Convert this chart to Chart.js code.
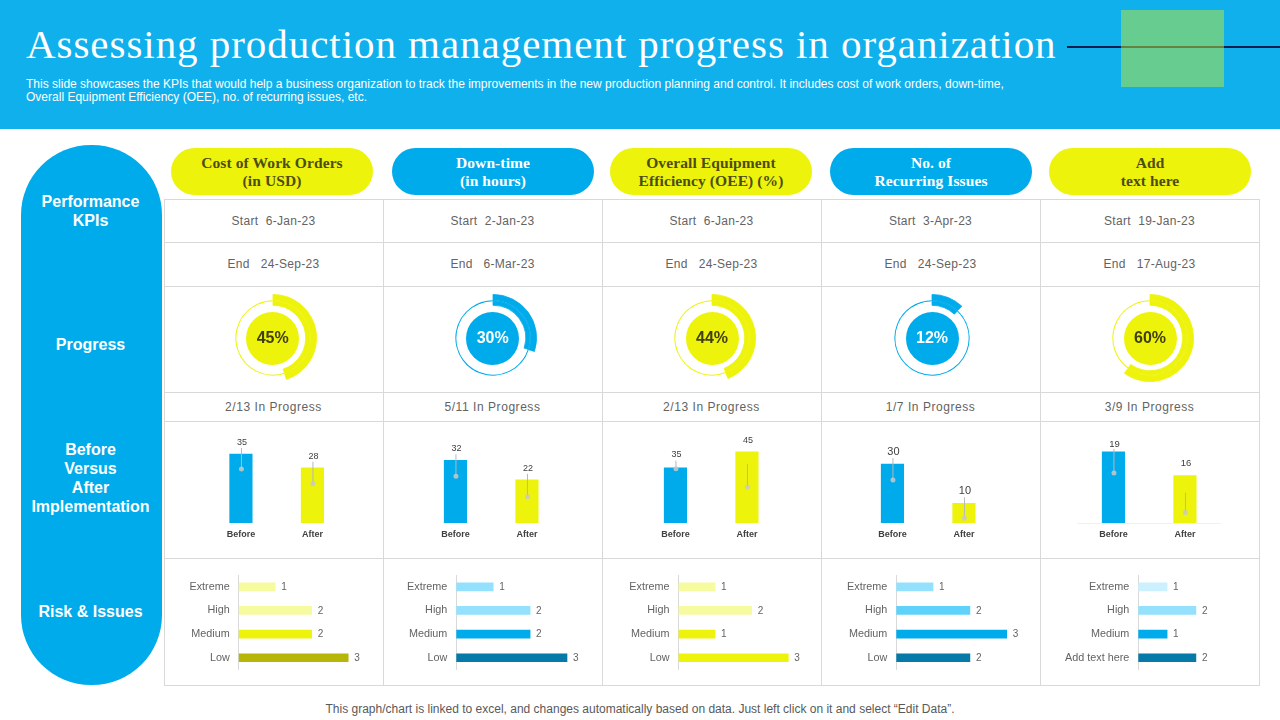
<!DOCTYPE html>
<html>
<head>
<meta charset="utf-8">
<title>Assessing production management progress in organization</title>
<script src="https://cdn.jsdelivr.net/npm/chart.js@4"></script>
<style>
html, body { margin: 0; padding: 0; background: #fff; }
body { width: 1280px; height: 720px; overflow: hidden; position: relative; font-family: "Liberation Sans", Arial, sans-serif; color: #595959; }
.abs { position: absolute; }
#header { left: 0; top: 0; width: 1280px; height: 129px; background: #0fb0ec; }
#title { left: 26px; top: 20px; font: 41px "Liberation Serif", serif; letter-spacing: 0.95px; color: #fff; white-space: nowrap; }
#subtitle { left: 26px; top: 78px; font-size: 12.03px; line-height: 13px; color: #fff; white-space: nowrap; }
#rule { left: 1067px; top: 46px; width: 213px; height: 2px; background: #0a1f50; }
#square { left: 1121px; top: 10px; width: 103px; height: 77px; background: rgba(189, 232, 52, 0.5); }
#sidebar { left: 21px; top: 145px; width: 141px; height: 540px; background: #00abeb; border-radius: 70px; }
.side { left: 20px; width: 141px; text-align: center; color: #fff; font-weight: bold; font-size: 16px; line-height: 19px; }
.pill { top: 148px; width: 202px; height: 47px; border-radius: 23.5px; display: flex; align-items: center; justify-content: center; text-align: center; font: bold 15.5px/18px "Liberation Serif", serif; letter-spacing: 0.1px; }
.pill.yellow { background: #eef30c; color: #4d4d12; }
.pill.blue { background: #00abeb; color: #fff; }
.hline { left: 164px; width: 1095px; height: 1px; background: #d9d9d9; }
.vline { top: 199px; width: 1px; height: 487px; background: #d9d9d9; }
.cell { width: 219px; text-align: center; font-size: 12px; white-space: pre; letter-spacing: 0.3px; color: #636363; }
.cell.wide { letter-spacing: 0.55px; }
.pct { width: 60px; height: 20px; line-height: 20px; text-align: center; font-weight: bold; font-size: 16px; }
.disc { width: 53px; height: 53px; border-radius: 50%; }
#footer { left: 0; top: 702px; width: 1280px; text-align: center; font-size: 12px; color: #595959; }
canvas { position: absolute; }
</style>
</head>
<body>
<script>
// chart values, one list per column of the slide
const kpiNames = [
    ['Cost of Work Orders', '(in USD)'],
    ['Down-time', '(in hours)'],
    ['Overall Equipment', 'Efficiency (OEE) (%)'],
    ['No. of', 'Recurring Issues'],
    ['Add', 'text here']
];
const startDates = ['6-Jan-23', '2-Jan-23', '6-Jan-23', '3-Apr-23', '19-Jan-23'];
const endDates = ['24-Sep-23', '6-Mar-23', '24-Sep-23', '24-Sep-23', '17-Aug-23'];
const progressPct = [45, 30, 44, 12, 60];
const progressText = ['2/13 In Progress', '5/11 In Progress', '2/13 In Progress', '1/7 In Progress', '3/9 In Progress'];

const stageLabels = ['Before', 'After'];
const beforeValues = [35, 32, 35, 30, 19];
const afterValues = [28, 22, 45, 10, 16];
const stageAxisMin = [0, 0, 0, 0, 10];
const stageAxisMax = [47.2, 47.4, 58.9, 47.3, 21.77];

const riskLabels = ['Extreme', 'High', 'Medium', 'Low'];
const riskLabelsLast = ['Extreme', 'High', 'Medium', 'Add text here'];
const riskValues1 = [1, 2, 2, 3];
const riskValues2 = [1, 2, 2, 3];
const riskValues3 = [1, 2, 1, 3];
const riskValues4 = [1, 2, 3, 2];
const riskValues5 = [1, 2, 1, 2];

const YELLOW = '#eef30c';
const BLUE = '#00abeb';
const GRID = '#d9d9d9';

const colLeft = [164, 383, 602, 821, 1040];
const pillLeft = [171, 392, 610, 830, 1049];
const donutX = [272.7, 492.7, 712, 932, 1150];
const stagePlotLeft = [205.2, 419.7, 639.7, 856.7, 1077.7];
// leader line of each value label, offsets from the bar top: label, line start, dot
const labelGap = [[11.5, 11.5], [12, 11.5], [13, 11], [12, 12], [8, 12]];
const leaderStart = [[-6, -6], [-6, -6], [-7, 12], [-6, -6], [-3, 17]];
const leaderDrop = [[15, 16], [16, 17], [1, 35], [16, 15], [21, 37]];
const stageFontSize = [9, 9, 9, 11, 9.5];
const riskAxisX = [238.7, 456.3, 678.5, 896.3, 1138.3];
const riskUnit = [36.5, 36.9, 36.6, 36.8, 28.8];
const riskColors = [
    ['#f7fba0', '#f7fba0', '#eef30c', '#b5b50a'],
    ['#94e1fd', '#94e1fd', '#00abeb', '#0579a8'],
    ['#f7fba0', '#f7fba0', '#eef30c', '#eef30c'],
    ['#94e1fd', '#5ed2fb', '#00abeb', '#0579a8'],
    ['#ccf0fe', '#94e1fd', '#00abeb', '#0579a8']
];

function el(cls, css, text) {
    const d = document.createElement('div');
    d.className = 'abs ' + cls;
    Object.assign(d.style, css);
    if (text !== undefined) d.textContent = text;
    document.body.appendChild(d);
    return d;
}

function canvasAt(left, top, w, h) {
    const c = document.createElement('canvas');
    c.width = w;
    c.height = h;
    c.style.left = left + 'px';
    c.style.top = top + 'px';
    c.style.width = w + 'px';
    c.style.height = h + 'px';
    document.body.appendChild(c);
    return c;
}

// header and frame
el('', {}).id = 'header';
el('', {}, 'Assessing production management progress in organization').id = 'title';
const sub = el('', {});
sub.id = 'subtitle';
sub.innerHTML = 'This slide showcases the KPIs that would help a business organization to track the improvements in the new production planning and control. It includes cost of work orders, down-time,<br>Overall Equipment Efficiency (OEE), no. of recurring issues, etc.';
el('', {}).id = 'rule';
el('', {}).id = 'square';
el('', {}).id = 'sidebar';
[['Performance<br>KPIs', 192], ['Progress', 335], ['Before<br>Versus<br>After<br>Implementation', 440], ['Risk &amp; Issues', 602]].forEach(([t, y]) => {
    el('side', { top: y + 'px' }).innerHTML = t;
});

[199, 242, 286, 392, 421, 558, 685].forEach(y => el('hline', { top: y + 'px' }));
[164, 383, 602, 821, 1040, 1259].forEach(x => el('vline', { left: x + 'px' }));

kpiNames.forEach((name, i) => {
    const p = el('pill ' + (i % 2 ? 'blue' : 'yellow'), { left: pillLeft[i] + 'px' });
    p.innerHTML = name.join('<br>');
    const left = colLeft[i] + 'px';
    el('cell', { left, top: '214px' }, 'Start  ' + startDates[i]);
    el('cell', { left, top: '257px' }, 'End   ' + endDates[i]);
    el('cell wide', { left, top: '400px' }, progressText[i]);
});

el('', {}, 'This graph/chart is linked to excel, and changes automatically based on data. Just left click on it and select \u201cEdit Data\u201d.').id = 'footer';

Chart.defaults.font.family = '"Liberation Sans", Arial, sans-serif';
Chart.defaults.animation = false;
Chart.defaults.responsive = false;
Chart.defaults.events = [];
Chart.defaults.plugins.legend.display = false;
Chart.defaults.plugins.tooltip.enabled = false;

// value labels with the little leader line and dot the slide has on its columns
const stageLabelPlugin = {
    id: 'stageLabels',
    afterDatasetsDraw(chart, args, opts) {
        const ctx = chart.ctx;
        const ds = chart.data.datasets[0];
        chart.getDatasetMeta(0).data.forEach((bar, i) => {
            const dotY = bar.y + opts.drop[i];
            ctx.save();
            ctx.strokeStyle = '#b4b8bb';
            ctx.lineWidth = 1;
            ctx.beginPath();
            ctx.moveTo(bar.x + 0.5, bar.y + opts.start[i]);
            ctx.lineTo(bar.x + 0.5, dotY);
            ctx.stroke();
            ctx.fillStyle = 'rgba(200, 200, 200, 0.85)';
            ctx.beginPath();
            ctx.arc(bar.x + 0.5, dotY, 2.5, 0, Math.PI * 2);
            ctx.fill();
            ctx.fillStyle = '#404040';
            ctx.font = opts.size + 'px "Liberation Sans"';
            ctx.textAlign = 'center';
            ctx.textBaseline = 'middle';
            ctx.fillText(ds.data[i], bar.x + 1, bar.y - opts.gap[i]);
            ctx.restore();
        });
    }
};

const riskLabelPlugin = {
    id: 'riskLabels',
    afterDatasetsDraw(chart) {
        const ctx = chart.ctx;
        const ds = chart.data.datasets[0];
        chart.getDatasetMeta(0).data.forEach((bar, i) => {
            ctx.save();
            ctx.fillStyle = '#636363';
            ctx.font = '10px "Liberation Sans"';
            ctx.textAlign = 'left';
            ctx.textBaseline = 'middle';
            ctx.fillText(ds.data[i], bar.x + 6, bar.y + 0.5);
            ctx.restore();
        });
    }
};

progressPct.forEach((pct, i) => {
    const color = i % 2 ? BLUE : YELLOW;
    const cx = donutX[i];
    const rest = 100 - pct;
    const thick = {
        data: [pct, rest],
        backgroundColor: [color, 'rgba(0,0,0,0)'],
        borderColor: [color, 'rgba(0,0,0,0)'],
        borderWidth: [0.8, 0]
    };
    el('disc', { left: (cx - 26.5) + 'px', top: '311.5px', background: color });
    new Chart(canvasAt(cx - 44, 294, 88, 88), {
        type: 'doughnut',
        data: {
            datasets: [
                { ...thick, weight: 6 },
                { data: [pct, rest], backgroundColor: [color, color], weight: 1, borderWidth: 0 },
                { ...thick, weight: 4 }
            ]
        },
        options: { cutout: '75%', layout: { padding: 0 } }
    });
    el('pct', { left: (cx - 30) + 'px', top: '328px', color: i % 2 ? '#fff' : '#3f3f10' }, pct + '%');
});

beforeValues.forEach((before, i) => {
    const plotLeft = stagePlotLeft[i] - colLeft[i];
    new Chart(canvasAt(colLeft[i] + 1, 422, 218, 136), {
        type: 'bar',
        data: {
            labels: stageLabels,
            datasets: [{
                data: [before, afterValues[i]],
                backgroundColor: [BLUE, YELLOW],
                barThickness: 22.5,
                categoryPercentage: 1,
                barPercentage: 1
            }]
        },
        options: {
            layout: { padding: { left: plotLeft - 1, right: 218 - (plotLeft - 1) - 143, top: 8, bottom: 17 } },
            scales: {
                x: {
                    grid: { display: false, drawTicks: false },
                    border: { display: i === 4, color: '#f0f0f0' },
                    ticks: { color: '#404040', padding: 6, font: { size: 9, weight: 'bold' }, maxRotation: 0 },
                    afterFit(scale) { scale.height = 18; }
                },
                y: { display: false, min: stageAxisMin[i], max: stageAxisMax[i] }
            },
            plugins: { stageLabels: { drop: leaderDrop[i], start: leaderStart[i], gap: labelGap[i], size: stageFontSize[i] } }
        },
        plugins: [stageLabelPlugin]
    });
});

[riskValues1, riskValues2, riskValues3, riskValues4, riskValues5].forEach((values, i) => {
    const axisOffset = riskAxisX[i] - colLeft[i] - 1;
    const plotWidth = riskUnit[i] * 3.5;
    new Chart(canvasAt(colLeft[i] + 1, 559, 218, 126), {
        type: 'bar',
        data: {
            labels: i === 4 ? riskLabelsLast : riskLabels,
            datasets: [{
                data: values,
                backgroundColor: riskColors[i],
                barThickness: 8,
                categoryPercentage: 1,
                barPercentage: 1
            }]
        },
        options: {
            indexAxis: 'y',
            layout: { padding: { left: 0, right: 218 - axisOffset - plotWidth, top: 16, bottom: 14 } },
            scales: {
                x: { display: false, min: 0, max: 3.5 },
                y: {
                    grid: { display: false, drawTicks: false },
                    border: { display: true, color: GRID },
                    ticks: { color: '#636363', padding: 9, font: { size: 10.8 } },
                    afterFit(scale) { scale.width = axisOffset; }
                }
            }
        },
        plugins: [riskLabelPlugin]
    });
});
</script>
</body>
</html>
